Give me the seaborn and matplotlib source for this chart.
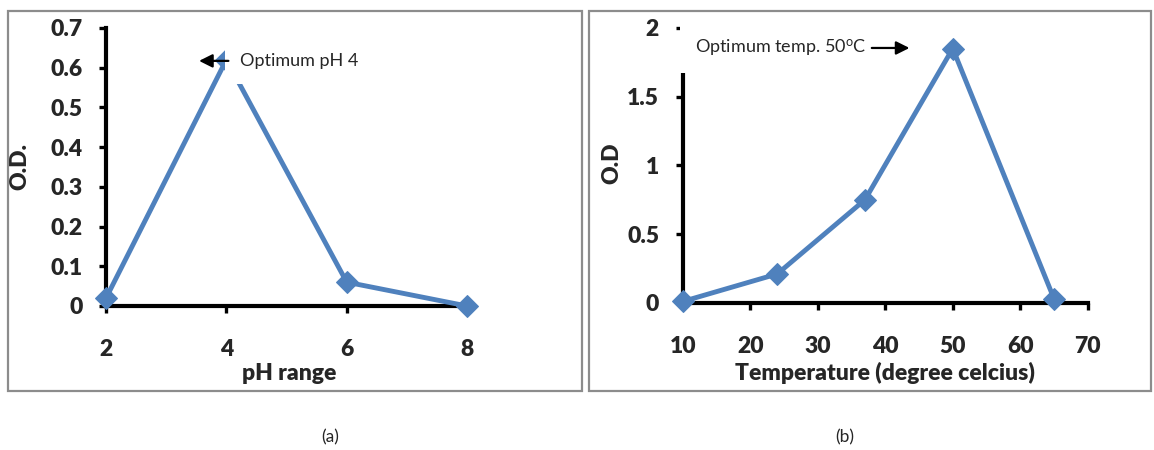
import matplotlib
matplotlib.use("Agg")
import matplotlib.pyplot as plt
import seaborn as sns
from matplotlib.patches import Rectangle

# ── Data ──────────────────────────────────────────────────────────────────────
ph_values = [2, 4, 6, 8]
ph_od = [0.02, 0.62, 0.06, 0.0]
ph_yticks = [0, 0.1, 0.2, 0.3, 0.4, 0.5, 0.6, 0.7]
ph_yticklabels = ["0", "0.1", "0.2", "0.3", "0.4", "0.5", "0.6", "0.7"]
ph_xticks = [2, 4, 6, 8]

temp_values = [10, 24, 37, 50, 65]
temp_od = [0.01, 0.21, 0.75, 1.85, 0.03]
temp_yticks = [0, 0.5, 1, 1.5, 2]
temp_yticklabels = ["0", "0.5", "1", "1.5", "2"]
temp_xticks = [10, 20, 30, 40, 50, 60, 70]

LINE_COLOR = "#4F81BD"
LABEL_SIZE = 16.5

sns.set_style("ticks")
plt.rcParams["font.family"] = ["Lato", "DejaVu Sans"]

fig = plt.figure(figsize=(11.54, 4.5), dpi=100)
ax1 = fig.add_axes([0.0919, 0.320, 0.318, 0.618])
ax2 = fig.add_axes([0.5916, 0.327, 0.351, 0.611])


def style_axes(ax):
    for side in ["top", "right"]:
        ax.spines[side].set_visible(False)
    for side in ["left", "bottom"]:
        ax.spines[side].set_linewidth(3.0)
        ax.spines[side].set_color("black")
    ax.tick_params(axis="both", direction="out", length=5, width=2.4,
                   color="black", labelsize=LABEL_SIZE)
    ax.tick_params(axis="x", pad=19)
    ax.tick_params(axis="y", pad=12)
    for lab in ax.get_xticklabels() + ax.get_yticklabels():
        lab.set_fontweight("heavy")


# ── (a) pH ────────────────────────────────────────────────────────────────────
sns.lineplot(x=ph_values, y=ph_od, ax=ax1, color=LINE_COLOR, linewidth=3.5,
             marker="D", markersize=11, markeredgecolor=LINE_COLOR,
             clip_on=False, zorder=3)
ax1.set_xlim(2, 8.1)
ax1.set_ylim(0, 0.7)
ax1.set_xticks(ph_xticks)
ax1.set_yticks(ph_yticks)
ax1.set_yticklabels(ph_yticklabels)
style_axes(ax1)
ax1.set_xlabel("pH range", fontsize=LABEL_SIZE, fontweight="heavy")
ax1.set_ylabel("O.D.", fontsize=LABEL_SIZE, fontweight="heavy")
ax1.xaxis.set_label_coords(0.5, -0.205)
ax1.yaxis.set_label_coords(-0.205, 0.5)

ax1.text(4.23, 0.617, "Optimum pH 4", fontsize=13, va="center", ha="left",
         zorder=5, bbox=dict(boxstyle="square,pad=0.85", fc="white", ec="none"))
ax1.annotate("", xy=(3.5, 0.617), xytext=(4.08, 0.617), zorder=6,
             arrowprops=dict(arrowstyle="-|>,head_length=0.8,head_width=0.4",
                             color="black", lw=1.6))

# ── (b) Temperature ───────────────────────────────────────────────────────────
sns.lineplot(x=temp_values, y=temp_od, ax=ax2, color=LINE_COLOR, linewidth=3.5,
             marker="D", markersize=11, markeredgecolor=LINE_COLOR,
             clip_on=False, zorder=3)
ax2.set_xlim(10, 70)
ax2.set_ylim(0, 2)
ax2.set_xticks(temp_xticks)
ax2.set_yticks(temp_yticks)
ax2.set_yticklabels(temp_yticklabels)
style_axes(ax2)
ax2.set_xlabel("Temperature (degree celcius)", fontsize=LABEL_SIZE,
               fontweight="heavy")
ax2.set_ylabel("O.D", fontsize=LABEL_SIZE, fontweight="heavy")
ax2.xaxis.set_label_coords(0.5, -0.215)
ax2.yaxis.set_label_coords(-0.15, 0.508)

ax2.text(11.8, 1.854, r"Optimum temp. 50$\mathregular{^o}$C", fontsize=13,
         va="center", ha="left", zorder=5, clip_on=False,
         bbox=dict(boxstyle="square,pad=0.8", fc="white", ec="none"))
ax2.annotate("", xy=(44.0, 1.854), xytext=(37.6, 1.854), zorder=6,
             arrowprops=dict(arrowstyle="-|>,head_length=0.8,head_width=0.4",
                             color="black", lw=1.6))

# ── Panel frames and captions ─────────────────────────────────────────────────
fig.add_artist(Rectangle((0.0069, 0.131), 0.497, 0.844, transform=fig.transFigure,
                         fill=False, ec="#8c8c8c", lw=1.6))
fig.add_artist(Rectangle((0.5104, 0.131), 0.487, 0.844, transform=fig.transFigure,
                         fill=False, ec="#8c8c8c", lw=1.6))
fig.text(0.286, 0.029, "(a)", fontsize=12.5, ha="center", va="center")
fig.text(0.732, 0.029, "(b)", fontsize=12.5, ha="center", va="center")

fig.savefig("out.png", dpi=100)
plt.close(fig)
